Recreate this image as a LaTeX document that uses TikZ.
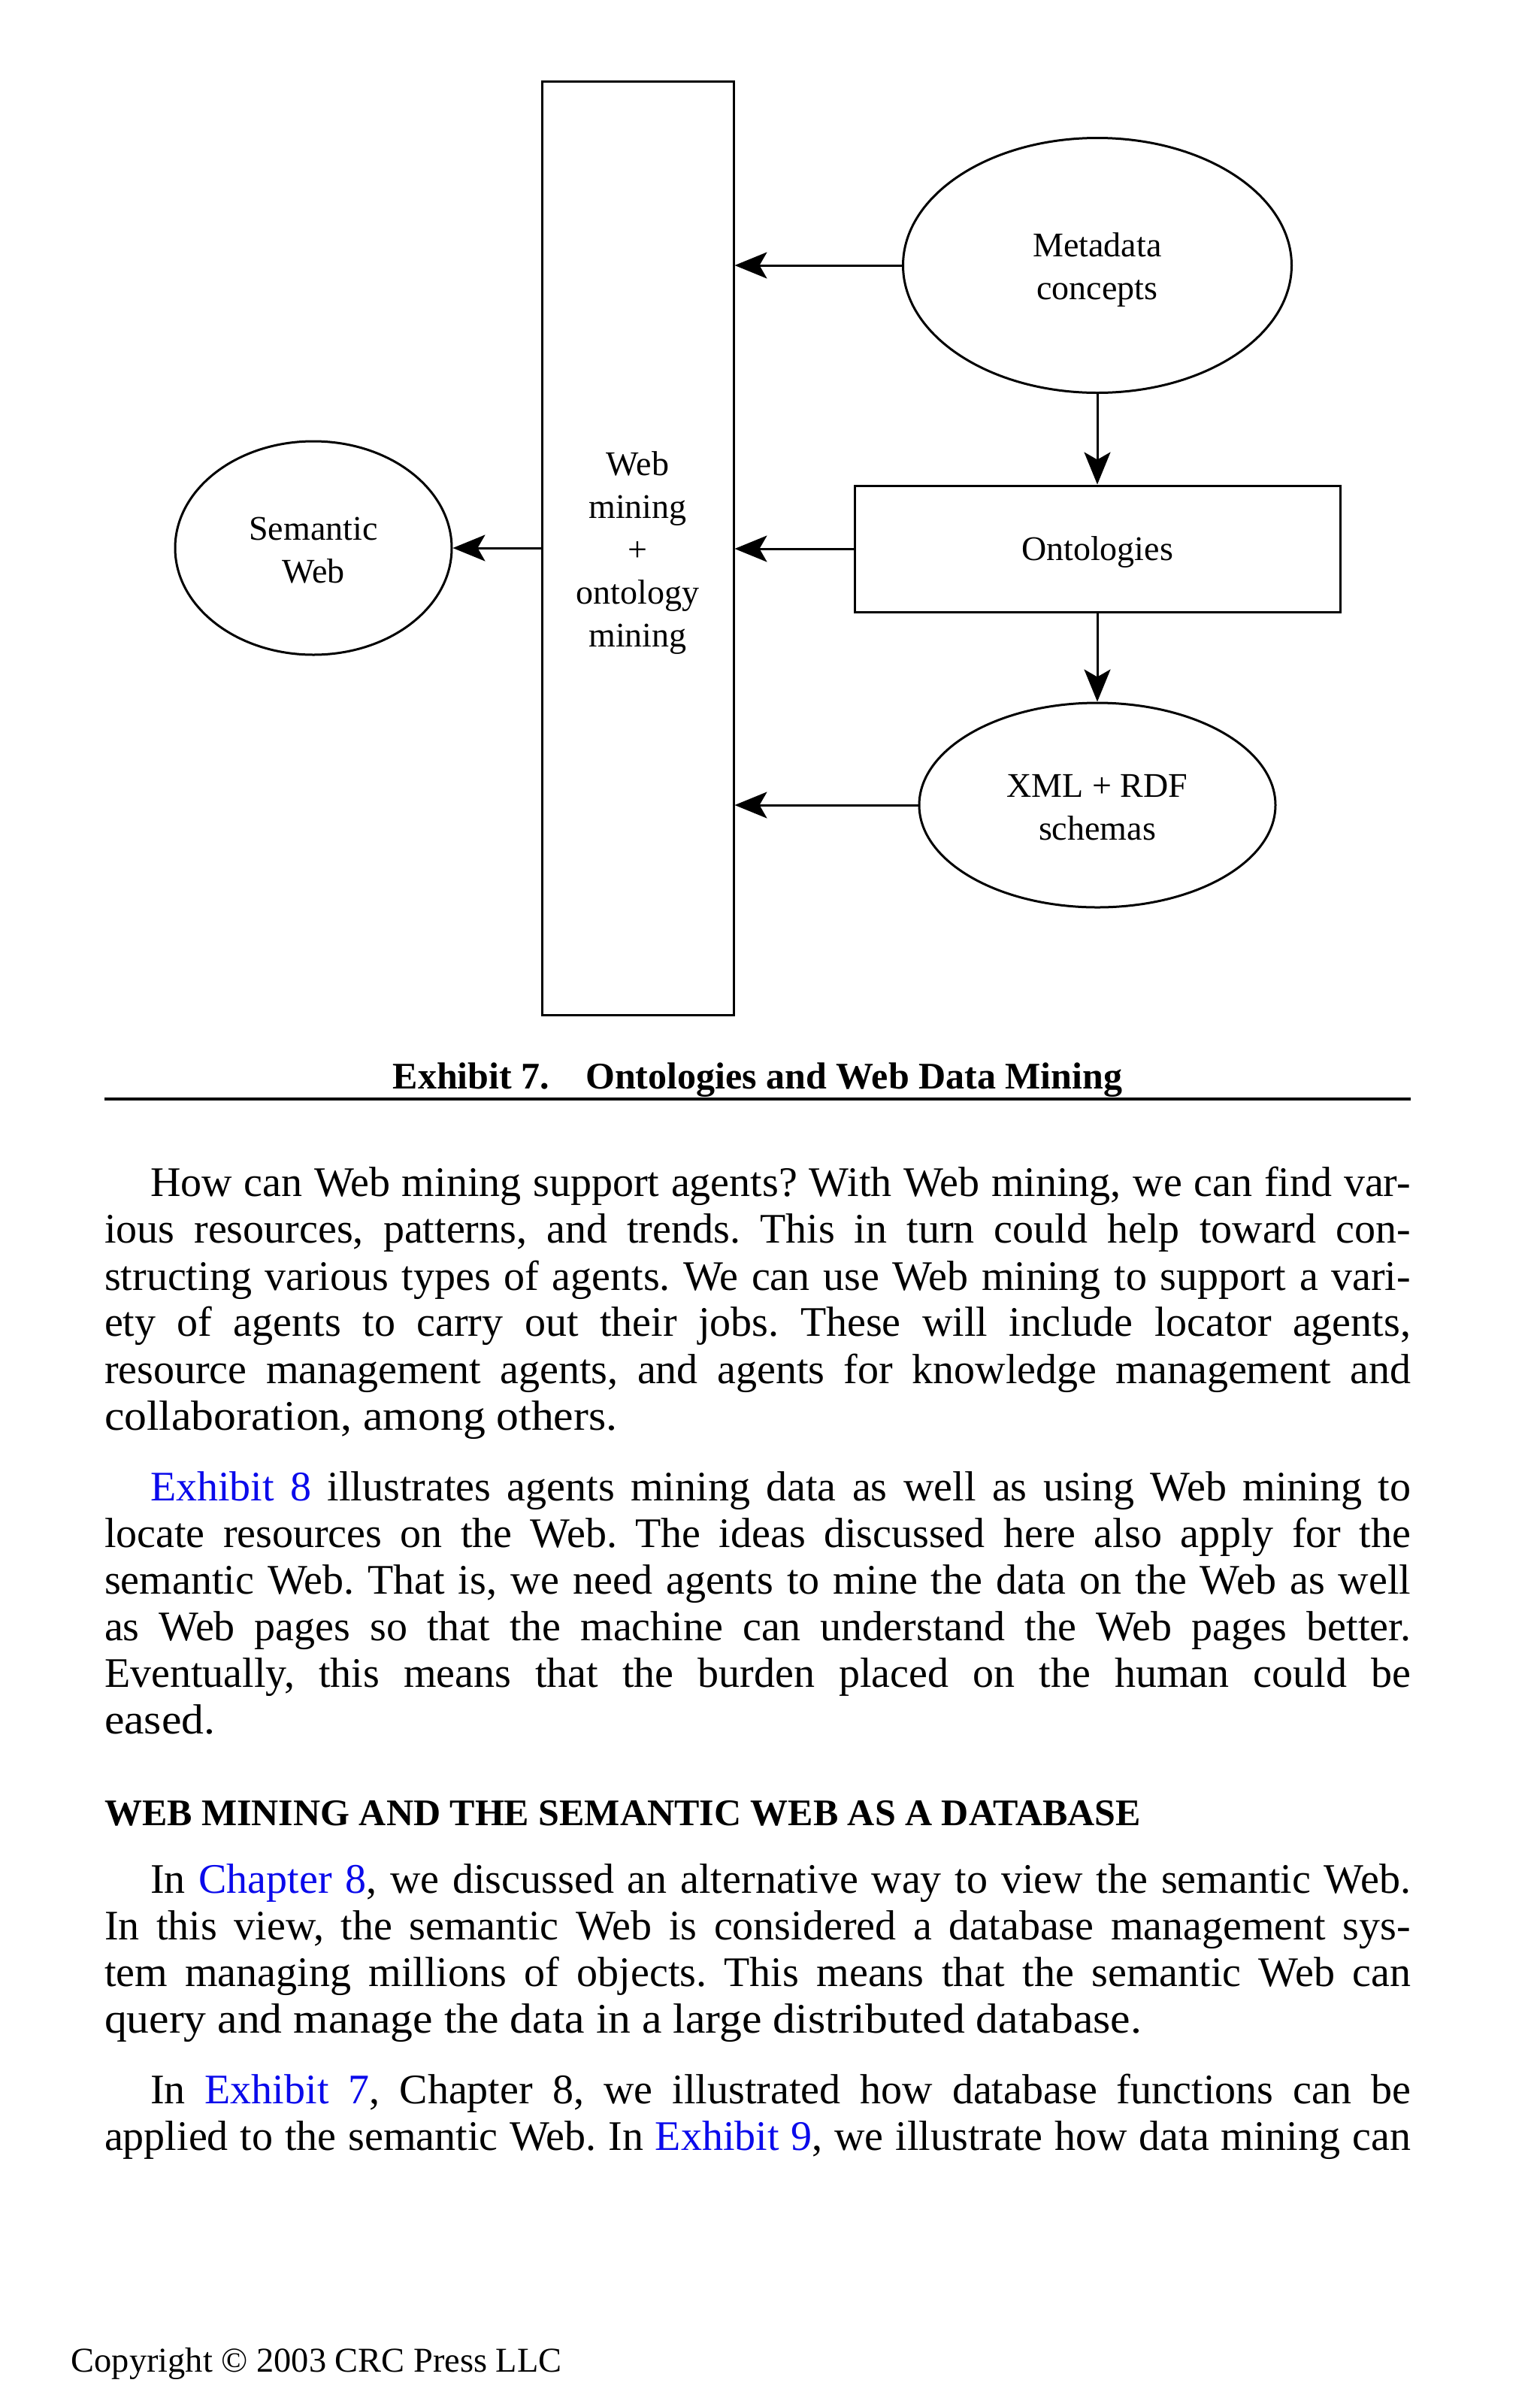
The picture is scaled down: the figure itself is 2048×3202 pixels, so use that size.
\documentclass[tikz,border=0pt]{standalone}
\usepackage{fontspec}
\setmainfont{Liberation Serif}
\newfontfamily\bodyfont{Liberation Serif}
\newfontfamily\widefont{Liberation Serif}[FakeStretch=1.065]
\usetikzlibrary{shapes.geometric,arrows.meta,calc}
\definecolor{linkblue}{RGB}{10,10,235}
\newcommand{\lnk}[1]{\textcolor{linkblue}{#1}}
\newcommand{\jline}[1]{\makebox[434.5pt][s]{#1}}
\newcommand{\iline}[1]{\makebox[419.25pt][s]{#1}}
\tikzset{
  box/.style={draw, line width=0.75pt, rectangle, inner sep=0pt},
  oval/.style={draw, line width=0.75pt, ellipse, inner sep=0pt},
  lbl/.style={inner sep=0pt, align=center, font=\fontsize{11.5}{14.25}\selectfont},
  arr/.style={line width=0.75pt, -{Stealth[length=10.75pt, width=8.75pt, inset=2.5pt]}},
  bodyline/.style={anchor=base west, inner sep=0pt, outer sep=0pt,
    font=\fontsize{14}{16}\bodyfont},
  lastline/.style={anchor=base west, inner sep=0pt, outer sep=0pt,
    font=\fontsize{14}{16}\widefont},
  headline/.style={anchor=base west, inner sep=0pt, outer sep=0pt,
    font=\fontsize{12.5}{15}\bodyfont\bfseries},
}
\begin{document}
\frenchspacing
\begin{tikzpicture}[x=0.25pt,y=-0.25pt]
\useasboundingbox (0,0) rectangle (2048,3202);
\fill[white] (0,0) rectangle (2048,3202);

% diagram shapes
\node[box, minimum width=63.75pt, minimum height=310.5pt] (web) at (848.5,729) {};
\node[oval, minimum width=129.25pt, minimum height=84.75pt] (meta) at (1460,353) {};
\node[box, minimum width=161.5pt, minimum height=42pt] (onto) at (1460,730) {};
\node[oval, minimum width=118.5pt, minimum height=68pt] (xml) at (1460,1071) {};
\node[oval, minimum width=92pt, minimum height=71pt] (sem) at (417,729) {};

% diagram texts
\node[lbl] (webt) at ($(web)+(0,6)$) {Web\\mining\\+\\ontology\\mining};
\node[lbl] (metat) at ($(meta)+(0,6)$) {Metadata\\concepts};
\node[lbl] (ontot) at ($(onto)+(0,4)$) {Ontologies};
\node[lbl] (xmlt) at ($(xml)+(0,3)$) {XML + RDF\\schemas};
\node[lbl] (semt) at ($(sem)+(0,3)$) {Semantic\\Web};

% connectors
\draw[arr] (meta.west) -- (meta.west -| web.east);
\draw[arr] (onto.west) -- (onto.west -| web.east);
\draw[arr] (xml.west) -- (xml.west -| web.east);
\draw[arr] (sem.east -| web.west) -- (sem.east);
\draw[arr] (meta.south) -- (onto.north);
\draw[arr] (onto.south) -- (xml.north);

% caption
\node[anchor=base, inner sep=0pt, font=\fontsize{12.5}{15}\bodyfont\bfseries] (cap)
  at (1008,1448) {Exhibit 7.\hspace{12pt}Ontologies and Web Data Mining};
\draw[line width=0.8pt] (139,1462) -- (1877,1462);

% paragraph 1
\node[bodyline] (p1a) at (200,1591) {\iline{How can Web mining support agents? With Web mining, we can find var-}};
\node[bodyline] (p1b) at (139,1653) {\jline{ious resources, patterns, and trends. This in turn could help toward con-}};
\node[bodyline] (p1c) at (139,1716) {\jline{structing various types of agents. We can use Web mining to support a vari-}};
\node[bodyline] (p1d) at (139,1777) {\jline{ety of agents to carry out their jobs. These will include locator agents,}};
\node[bodyline] (p1e) at (139,1840) {\jline{resource management agents, and agents for knowledge management and}};
\node[lastline] (p1f) at (139,1902) {collaboration, among others.};

% paragraph 2
\node[bodyline] (p2a) at (200,1996) {\iline{\lnk{Exhibit 8} illustrates agents mining data as well as using Web mining to}};
\node[bodyline] (p2b) at (139,2058) {\jline{locate resources on the Web. The ideas discussed here also apply for the}};
\node[bodyline] (p2c) at (139,2120) {\jline{semantic Web. That is, we need agents to mine the data on the Web as well}};
\node[bodyline] (p2d) at (139,2182) {\jline{as Web pages so that the machine can understand the Web pages better.}};
\node[bodyline] (p2e) at (139,2244) {\jline{Eventually, this means that the burden placed on the human could be}};
\node[lastline] (p2f) at (139,2306) {eased.};

% heading
\node[headline] (hd) at (139,2428) {WEB MINING AND THE SEMANTIC WEB AS A DATABASE};

% paragraph 3
\node[bodyline] (p3a) at (200,2518) {\iline{In \lnk{Chapter 8}, we discussed an alternative way to view the semantic Web.}};
\node[bodyline] (p3b) at (139,2580) {\jline{In this view, the semantic Web is considered a database management sys-}};
\node[bodyline] (p3c) at (139,2642) {\jline{tem managing millions of objects. This means that the semantic Web can}};
\node[lastline] (p3d) at (139,2704) {query and manage the data in a large distributed database.};

% paragraph 4
\node[bodyline] (p4a) at (200,2798) {\iline{In \lnk{Exhibit 7}, Chapter 8, we illustrated how database functions can be}};
\node[bodyline] (p4b) at (139,2860) {\jline{applied to the semantic Web. In \lnk{Exhibit 9}, we illustrate how data mining can}};

% footer
\node[anchor=base west, inner sep=0pt, font=\fontsize{11.6}{14}\selectfont] (foot)
  at (94,3155) {Copyright \textcopyright{} 2003 CRC Press LLC};
\end{tikzpicture}
\end{document}
